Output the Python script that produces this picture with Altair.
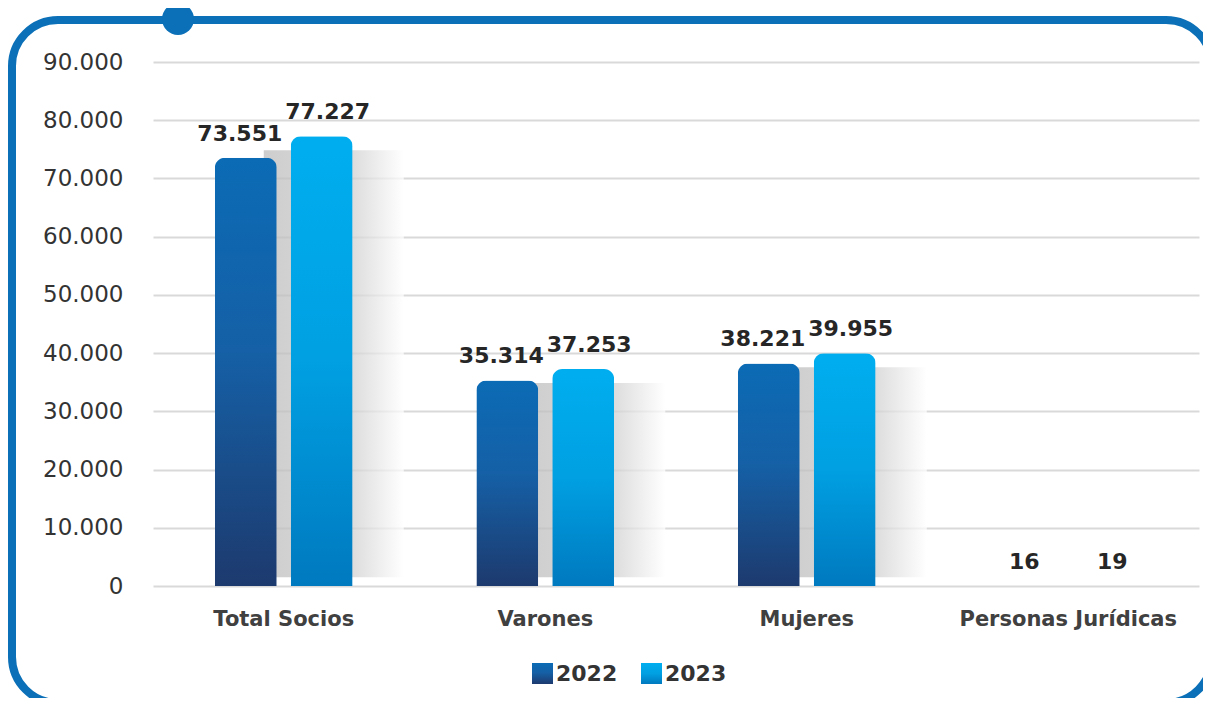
import altair as alt
import pandas as pd

categories = ["Total Socios", "Varones", "Mujeres", "Personas Jurídicas"]
years = ["2022", "2023"]
values_2022 = [73551, 35314, 38221, 16]
values_2023 = [77227, 37253, 39955, 19]
y_ticks = [0, 10000, 20000, 30000, 40000, 50000, 60000, 70000, 80000, 90000]

rows = []
for c, a, b in zip(categories, values_2022, values_2023):
    rows.append({"cat": c, "year": years[0], "value": a})
    rows.append({"cat": c, "year": years[1], "value": b})
df = pd.DataFrame(rows)
df["label"] = df["value"].map(lambda v: f"{v:,}".replace(",", "."))

FONT = "DejaVu Sans"
BLUE = "#0B70B7"

grad_2022 = alt.Gradient(gradient="linear", x1=0, x2=0, y1=0, y2=1,
                         stops=[alt.GradientStop(color="#0B6BB5", offset=0),
                                alt.GradientStop(color="#1560A6", offset=0.45),
                                alt.GradientStop(color="#1D3A6E", offset=1)])
grad_2023 = alt.Gradient(gradient="linear", x1=0, x2=0, y1=0, y2=1,
                         stops=[alt.GradientStop(color="#00AEEF", offset=0),
                                alt.GradientStop(color="#00A0E2", offset=0.5),
                                alt.GradientStop(color="#0079BF", offset=1)])
grad_shadow = alt.Gradient(gradient="linear", x1=0, x2=1, y1=0, y2=0,
                           stops=[alt.GradientStop(color="#bdbdbd", offset=0),
                                  alt.GradientStop(color="#cdcdcd", offset=0.6),
                                  alt.GradientStop(color="#ffffff", offset=1)])

x_axis = alt.Axis(title=None, labelAngle=0, ticks=False, domain=False, grid=False,
                  labelPadding=22, labelFontSize=21, labelFont=FONT, labelFontWeight="bold",
                  labelColor="#404040", labelLimit=400)
y_axis = alt.Axis(values=y_ticks, title=None, domain=False, ticks=False,
                  labelPadding=30, labelFontSize=23, labelFont=FONT,
                  labelColor="#333333", gridColor="#d9d9d9", gridWidth=2,
                  labelExpr="replace(format(datum.value, ','), ',', '.')")

x_scale = alt.Scale(domain=categories, paddingInner=0.473, paddingOuter=0.2365)
y_scale = alt.Scale(domain=[0, 90000], nice=False)
xo = alt.XOffset("year:N", scale=alt.Scale(domain=years, paddingInner=0.184, paddingOuter=0))

base = alt.Chart(df)

shadow = base.transform_aggregate(vmax="max(value)", groupby=["cat"]).transform_filter(
    alt.datum.vmax > 3000
).mark_bar(
    width=140, xOffset=50, yOffset=14, color=grad_shadow, opacity=0.75
).encode(
    x=alt.X("cat:N", scale=x_scale, axis=x_axis),
    y=alt.Y("vmax:Q", scale=y_scale, axis=y_axis),
    y2=alt.datum(1500),
)

def bars(year, grad):
    return base.transform_filter(alt.datum.year == year).mark_bar(
        color=grad, cornerRadiusTopLeft=10, cornerRadiusTopRight=10
    ).encode(
        x=alt.X("cat:N", scale=x_scale, axis=x_axis),
        xOffset=xo,
        y=alt.Y("value:Q", scale=y_scale, axis=y_axis),
    )

def labels(year, dx):
    return base.transform_filter(alt.datum.year == year).mark_text(
        font=FONT, fontSize=22, fontWeight="bold", color="#262626",
        dy=-24, dx=dx, baseline="middle"
    ).encode(
        x=alt.X("cat:N", scale=x_scale, axis=x_axis),
        xOffset=xo,
        y=alt.Y("value:Q", scale=y_scale, axis=y_axis),
        text="label:N",
    )

dummy = alt.Chart(pd.DataFrame({"d": [0]}))

frame = dummy.mark_rect(filled=False, stroke=BLUE, strokeWidth=8, cornerRadius=46).encode(
    x=alt.value(-141), x2=alt.value(1059), y=alt.value(-42), y2=alt.value(641)
)
dot = dummy.mark_point(filled=True, color=BLUE, opacity=1, size=1018, shape="circle").encode(
    x=alt.value(25), y=alt.value(-43)
)

leg_sq1 = dummy.mark_rect(color=grad_2022).encode(
    x=alt.value(379), x2=alt.value(400), y=alt.value(601), y2=alt.value(622))
leg_sq2 = dummy.mark_rect(color=grad_2023).encode(
    x=alt.value(488), x2=alt.value(509), y=alt.value(601), y2=alt.value(622))
leg_t1 = dummy.mark_text(font=FONT, fontSize=22, fontWeight="bold", color="#333333",
                         align="left", baseline="middle").encode(
    x=alt.value(403), y=alt.value(612), text=alt.value(years[0]))
leg_t2 = dummy.mark_text(font=FONT, fontSize=22, fontWeight="bold", color="#333333",
                         align="left", baseline="middle").encode(
    x=alt.value(512), y=alt.value(612), text=alt.value(years[1]))

chart = alt.layer(
    shadow,
    bars("2022", grad_2022), bars("2023", grad_2023),
    labels("2022", -6), labels("2023", 6),
    frame, dot, leg_sq1, leg_sq2, leg_t1, leg_t2,
).properties(
    width=1046, height=524,
    autosize=alt.AutoSizeParams(type="none"),
    padding={"left": 145, "top": 54, "right": 4, "bottom": 112},
    background="#ffffff",
).configure_view(stroke=None)

chart.save("out.html", embed_options={"renderer": "svg", "actions": False})
